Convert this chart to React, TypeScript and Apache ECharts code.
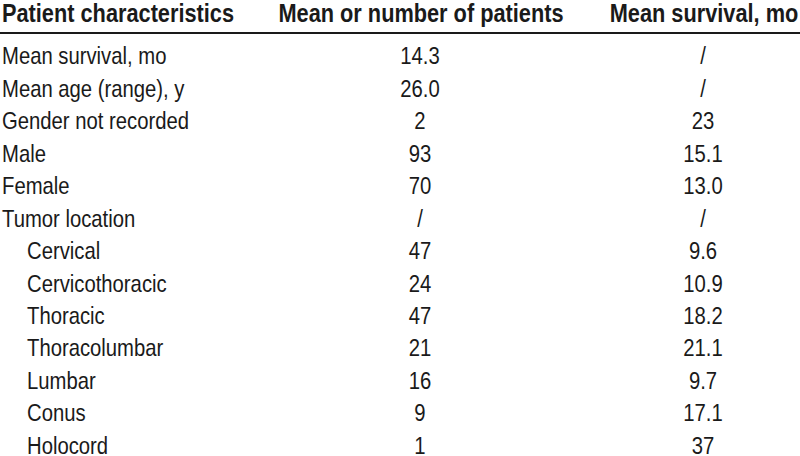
import React, { useEffect, useRef } from "react";
import * as echarts from "echarts";

const headers = ["Patient characteristics", "Mean or number of patients", "Mean survival, mo"];
const labels = [
  "Mean survival, mo",
  "Mean age (range), y",
  "Gender not recorded",
  "Male",
  "Female",
  "Tumor location",
  "Cervical",
  "Cervicothoracic",
  "Thoracic",
  "Thoracolumbar",
  "Lumbar",
  "Conus",
  "Holocord",
];
const indented = [false, false, false, false, false, false, true, true, true, true, true, true, true];
const countValues = ["14.3", "26.0", "2", "93", "70", "/", "47", "24", "47", "21", "16", "9", "1"];
const survivalValues = ["/", "/", "23", "15.1", "13.0", "/", "9.6", "10.9", "18.2", "21.1", "9.7", "17.1", "37"];

const FONT = '"Liberation Sans", Arial, sans-serif';
const COLOR = "#1a1a1a";

export default function App() {
  const ref = useRef<HTMLDivElement>(null);
  useEffect(() => {
    document.body.style.margin = "0";
    if (!ref.current) return;
    const chart = echarts.init(ref.current, undefined, { renderer: "svg" });
    const rowY0 = 56.3;
    const rowStep = 32.45;
    const colX = [2, 420, 703];
    const headerX = [2, 421, 704];
    const bodyScale = 0.845;
    const headScale = 0.87;
    const elements: any[] = [];
    headers.forEach((h, i) => {
      elements.push({
        type: "text",
        x: headerX[i],
        y: 13,
        scaleX: headScale,
        style: {
          text: h,
          font: `bold 25px ${FONT}`,
          fill: COLOR,
          align: i === 0 ? "left" : "center",
          verticalAlign: "middle",
          lineHeight: 20,
        },
      });
    });
    elements.push({
      type: "line",
      shape: { x1: 0, y1: 33, x2: 800, y2: 33 },
      style: { stroke: COLOR, lineWidth: 2 },
    });
    const bodyStyle = (text: string, align: string) => ({
      text,
      font: `24px ${FONT}`,
      fill: COLOR,
      align,
      verticalAlign: "middle",
      lineHeight: 18,
    });
    labels.forEach((lab, r) => {
      const y = rowY0 + r * rowStep;
      elements.push({
        type: "text",
        x: indented[r] ? 27 : colX[0],
        y,
        scaleX: bodyScale,
        style: bodyStyle(lab, "left"),
      });
      elements.push({
        type: "text",
        x: colX[1],
        y,
        scaleX: bodyScale,
        style: bodyStyle(countValues[r], "center"),
      });
      elements.push({
        type: "text",
        x: colX[2],
        y,
        scaleX: bodyScale,
        style: bodyStyle(survivalValues[r], "center"),
      });
    });
    chart.setOption({
      animation: false,
      backgroundColor: "#ffffff",
      graphic: { elements },
    });
    return () => chart.dispose();
  }, []);
  return <div ref={ref} style={{ width: 800, height: 456 }} />;
}
